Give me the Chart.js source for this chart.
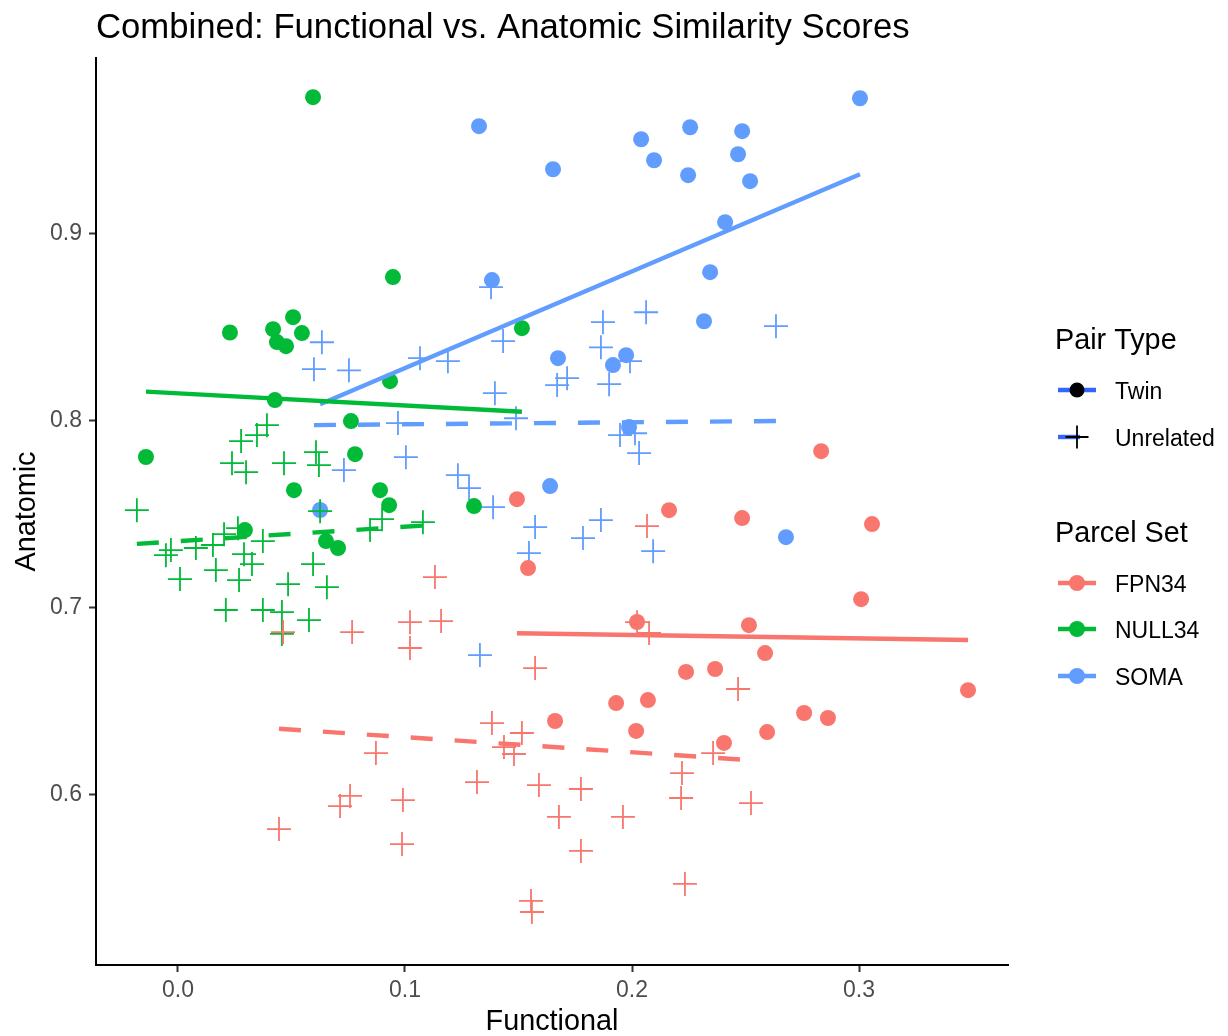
<!DOCTYPE html>
<html>
<head>
<meta charset="utf-8">
<script src="https://cdn.jsdelivr.net/npm/chart.js@4.4.1/dist/chart.umd.min.js"></script>
<style>
  html, body { margin: 0; padding: 0; background: #ffffff; }
  #wrap { position: relative; width: 1228px; height: 1036px; }
</style>
</head>
<body>
<div id="wrap"><canvas id="c" width="1228" height="1036"></canvas></div>
<script>
// Axis ticks
const xTickValues = [0, 0.1, 0.2, 0.3];
const xTickLabels = ['0.0', '0.1', '0.2', '0.3'];
const yTickValues = [0.6, 0.7, 0.8, 0.9];
const yTickLabels = ['0.6', '0.7', '0.8', '0.9'];

// Parcel sets and pair types
const parcelSets = ['FPN34', 'NULL34', 'SOMA'];
const pairTypes = ['Twin', 'Unrelated'];

// FPN34
const fpnTwinX = [0.2833,0.2163,0.2485,0.3057,0.1493,0.1542,0.3009,0.2022,0.2515,0.2586,0.3480,0.2238,0.2366,0.1930,0.2070,0.1661,0.2758,0.2863,0.2018,0.2405,0.2595];
const fpnTwinY = [0.7836,0.7521,0.7479,0.7447,0.7580,0.7212,0.7046,0.6924,0.6907,0.6758,0.6560,0.6657,0.6673,0.6491,0.6507,0.6395,0.6438,0.6411,0.6342,0.6278,0.6336];
const fpnUnrelX = [0.2066,0.1132,0.1159,0.1022,0.1022,0.0767,0.0463,0.2022,0.2075,0.1573,0.1383,0.1515,0.1436,0.1480,0.1317,0.1590,0.1775,0.1678,0.1960,0.1775,0.1555,0.1559,0.0991,0.0987,0.2220,0.2216,0.2233,0.2467,0.2357,0.2524,0.0872,0.0758,0.0714,0.0445];
const fpnUnrelY = [0.7436,0.7164,0.6929,0.6923,0.6785,0.6870,0.6870,0.6923,0.6865,0.6678,0.6384,0.6331,0.6256,0.6219,0.6069,0.6053,0.6032,0.5883,0.5883,0.5701,0.5434,0.5375,0.5973,0.5738,0.6117,0.5984,0.5525,0.6566,0.6224,0.5957,0.6224,0.5995,0.5941,0.5818];

// NULL34
const nullTwinX = [0.0595,0.0947,0.0229,0.0419,0.0507,0.0546,0.0436,0.0476,0.1515,0.0934,0.0427,0.0762,-0.0141,0.0780,0.0511,0.0890,0.0930,0.1304,0.0295,0.0652,0.0705];
const nullTwinY = [0.9727,0.8766,0.8470,0.8488,0.8552,0.8467,0.8419,0.8397,0.8493,0.8210,0.8109,0.7997,0.7805,0.7820,0.7628,0.7628,0.7548,0.7543,0.7415,0.7356,0.7319];
const nullUnrelX = [0.0392,0.0348,0.0278,0.0238,0.0300,0.0467,0.0608,0.0621,-0.0181,0.0626,0.0203,0.0264,0.0154,0.0079,-0.0031,-0.0053,0.0291,0.0326,0.0374,0.0167,0.0009,0.0269,0.0485,0.0595,0.0656,0.0211,0.0374,0.0458,0.0577,0.0458,0.0846,0.0899,0.1079];
const nullUnrelY = [0.7975,0.7922,0.7890,0.7772,0.7724,0.7772,0.7831,0.7762,0.7521,0.7516,0.7393,0.7425,0.7335,0.7319,0.7308,0.7281,0.7286,0.7233,0.7356,0.7201,0.7153,0.7148,0.7126,0.7233,0.7110,0.6988,0.6988,0.6977,0.6934,0.6860,0.7415,0.7473,0.7457];

// SOMA
const somaTwinX = [0.1326,0.2040,0.2097,0.1652,0.2256,0.2485,0.2467,0.2247,0.2520,0.2410,0.3004,0.2344,0.1383,0.2317,0.1674,0.1974,0.1916,0.1987,0.1639,0.0626,0.2678];
const somaTwinY = [0.9572,0.9502,0.9390,0.9342,0.9566,0.9545,0.9422,0.9310,0.9278,0.9059,0.9721,0.8792,0.8750,0.8530,0.8333,0.8349,0.8296,0.7965,0.7650,0.7522,0.7377];
const somaUnrelX = [0.0634,0.0599,0.0753,0.1066,0.1189,0.1379,0.1432,0.1872,0.2062,0.2634,0.1863,0.1991,0.1670,0.1714,0.1899,0.1396,0.1489,0.0969,0.1004,0.0731,0.1947,0.2013,0.2031,0.1233,0.1282,0.1388,0.1573,0.1546,0.1784,0.1863,0.2093,0.1330];
const somaUnrelY = [0.8418,0.8274,0.8268,0.8333,0.8317,0.8712,0.8424,0.8525,0.8578,0.8504,0.8391,0.8317,0.8189,0.8226,0.8194,0.8146,0.8012,0.7986,0.7804,0.7735,0.7922,0.7932,0.7826,0.7708,0.7639,0.7537,0.7431,0.7292,0.7372,0.7468,0.7302,0.6747];

const setColors = { FPN34: '#F8766D', NULL34: '#00BA38', SOMA: '#619CFF' };
const groups = {
  FPN34:  { Twin: [fpnTwinX, fpnTwinY],   Unrelated: [fpnUnrelX, fpnUnrelY] },
  NULL34: { Twin: [nullTwinX, nullTwinY], Unrelated: [nullUnrelX, nullUnrelY] },
  SOMA:   { Twin: [somaTwinX, somaTwinY], Unrelated: [somaUnrelX, somaUnrelY] }
};

const FONT = '"Liberation Sans", Arial, Helvetica, sans-serif';
const DASH = [22, 22];
const FIT_WIDTH = 4.4;

function toPoints(xs, ys) { return xs.map((x, i) => ({ x: x, y: ys[i] })); }

// Least-squares line over the group's x range
function lmSegment(xs, ys) {
  const n = xs.length;
  const mx = xs.reduce((a, b) => a + b, 0) / n;
  const my = ys.reduce((a, b) => a + b, 0) / n;
  let sxx = 0, sxy = 0;
  for (let i = 0; i < n; i++) { sxx += (xs[i] - mx) ** 2; sxy += (xs[i] - mx) * (ys[i] - my); }
  const b = sxy / sxx, a = my - b * mx;
  const lo = Math.min(...xs), hi = Math.max(...xs);
  return [{ x: lo, y: a + b * lo }, { x: hi, y: a + b * hi }];
}

const datasets = [];
parcelSets.forEach(set => {
  const col = setColors[set];
  pairTypes.forEach(pt => {
    const [xs, ys] = groups[set][pt];
    datasets.push({
      type: 'line',
      label: set + ' ' + pt + ' fit',
      data: lmSegment(xs, ys),
      borderColor: col,
      borderWidth: FIT_WIDTH,
      borderDash: pt === 'Twin' ? [] : DASH,
      borderCapStyle: 'butt',
      pointRadius: 0,
      fill: false,
      order: 0
    });
  });
});
parcelSets.forEach(set => {
  const col = setColors[set];
  pairTypes.forEach(pt => {
    const [xs, ys] = groups[set][pt];
    const twin = pt === 'Twin';
    datasets.push({
      type: 'scatter',
      label: set + ' ' + pt,
      data: toPoints(xs, ys),
      pointStyle: twin ? 'circle' : 'cross',
      pointRadius: twin ? 8 : 12,
      pointHoverRadius: twin ? 8 : 12,
      backgroundColor: col,
      borderColor: col,
      borderWidth: twin ? 0 : 1.8,
      order: 1
    });
  });
});

// Title, axis titles and the two legends
const decorations = {
  id: 'decorations',
  afterDraw(chart) {
    const ctx = chart.ctx;
    ctx.save();
    ctx.fillStyle = '#000000';
    ctx.textAlign = 'left';
    ctx.textBaseline = 'alphabetic';
    ctx.font = '34.7px ' + FONT;
    ctx.fillText('Combined: Functional vs. Anatomic Similarity Scores', 96, 38);

    ctx.font = '28.8px ' + FONT;
    ctx.textAlign = 'center';
    const ca = chart.chartArea;
    ctx.fillText('Functional', (ca.left + ca.right) / 2, 1030);
    ctx.save();
    ctx.translate(35, (ca.top + ca.bottom) / 2);
    ctx.rotate(-Math.PI / 2);
    ctx.fillText('Anatomic', 0, 0);
    ctx.restore();

    // legend: Pair Type / Parcel Set
    const kx0 = 1058, kx1 = 1096, kc = 1077, lx = 1115;
    ctx.textAlign = 'left';
    ctx.font = '28.8px ' + FONT;
    ctx.fillText('Pair Type', 1055, 349);
    ctx.fillText('Parcel Set', 1055, 542);

    ctx.font = '23px ' + FONT;
    const pairRows = [{ name: 'Twin', y: 390 }, { name: 'Unrelated', y: 437 }];
    pairRows.forEach(r => {
      ctx.strokeStyle = '#3366FF';
      ctx.lineWidth = FIT_WIDTH;
      ctx.lineCap = 'butt';
      ctx.setLineDash(r.name === 'Twin' ? [] : DASH);
      ctx.beginPath(); ctx.moveTo(kx0, r.y); ctx.lineTo(kx1, r.y); ctx.stroke();
      ctx.setLineDash([]);
      if (r.name === 'Twin') {
        ctx.fillStyle = '#000000';
        ctx.beginPath(); ctx.arc(kc, r.y, 7.5, 0, Math.PI * 2); ctx.fill();
      } else {
        ctx.strokeStyle = '#000000';
        ctx.lineWidth = 1.8;
        ctx.beginPath();
        ctx.moveTo(kc - 11.5, r.y); ctx.lineTo(kc + 11.5, r.y);
        ctx.moveTo(kc, r.y - 11.5); ctx.lineTo(kc, r.y + 11.5);
        ctx.stroke();
      }
      ctx.fillStyle = '#000000';
      ctx.fillText(r.name, lx, r.y + 9);
    });

    const setRows = [{ name: 'FPN34', y: 583 }, { name: 'NULL34', y: 629 }, { name: 'SOMA', y: 676 }];
    setRows.forEach(r => {
      const col = setColors[r.name];
      ctx.strokeStyle = col;
      ctx.lineWidth = FIT_WIDTH;
      ctx.beginPath(); ctx.moveTo(kx0, r.y); ctx.lineTo(kx1, r.y); ctx.stroke();
      ctx.fillStyle = col;
      ctx.beginPath(); ctx.arc(kc, r.y, 8, 0, Math.PI * 2); ctx.fill();
      ctx.fillStyle = '#000000';
      ctx.fillText(r.name, lx, r.y + 9);
    });
    ctx.restore();
  }
};

const tickFont = { family: FONT, size: 23 };

new Chart(document.getElementById('c'), {
  type: 'scatter',
  data: { datasets: datasets },
  options: {
    responsive: false,
    animation: false,
    devicePixelRatio: 1,
    layout: { padding: { left: 0, top: 58, right: 220, bottom: 0 } },
    plugins: {
      legend: { display: false },
      title: { display: false },
      tooltip: { enabled: false }
    },
    scales: {
      x: {
        type: 'linear',
        min: -0.0361,
        max: 0.3656,
        afterBuildTicks: s => { s.ticks = xTickValues.map(v => ({ value: v })); },
        afterFit: s => { s.height = 71; },
        ticks: {
          callback: v => xTickLabels[xTickValues.findIndex(t => Math.abs(t - v) < 1e-9)],
          font: tickFont,
          color: '#4D4D4D',
          padding: 5,
          maxRotation: 0,
          autoSkip: false
        },
        grid: { display: true, drawOnChartArea: false, drawTicks: true, tickLength: 7, tickWidth: 2, tickColor: '#333333' },
        border: { display: true, color: '#000000', width: 2 }
      },
      y: {
        type: 'linear',
        min: 0.5092,
        max: 0.9936,
        afterBuildTicks: s => { s.ticks = yTickValues.map(v => ({ value: v })); },
        afterFit: s => { s.width = 96; },
        ticks: {
          callback: v => yTickLabels[yTickValues.findIndex(t => Math.abs(t - v) < 1e-9)],
          font: tickFont,
          color: '#4D4D4D',
          padding: 7,
          autoSkip: false
        },
        grid: { display: true, drawOnChartArea: false, drawTicks: true, tickLength: 7, tickWidth: 2, tickColor: '#333333' },
        border: { display: true, color: '#000000', width: 2 }
      }
    }
  },
  plugins: [decorations]
});
</script>
</body>
</html>
